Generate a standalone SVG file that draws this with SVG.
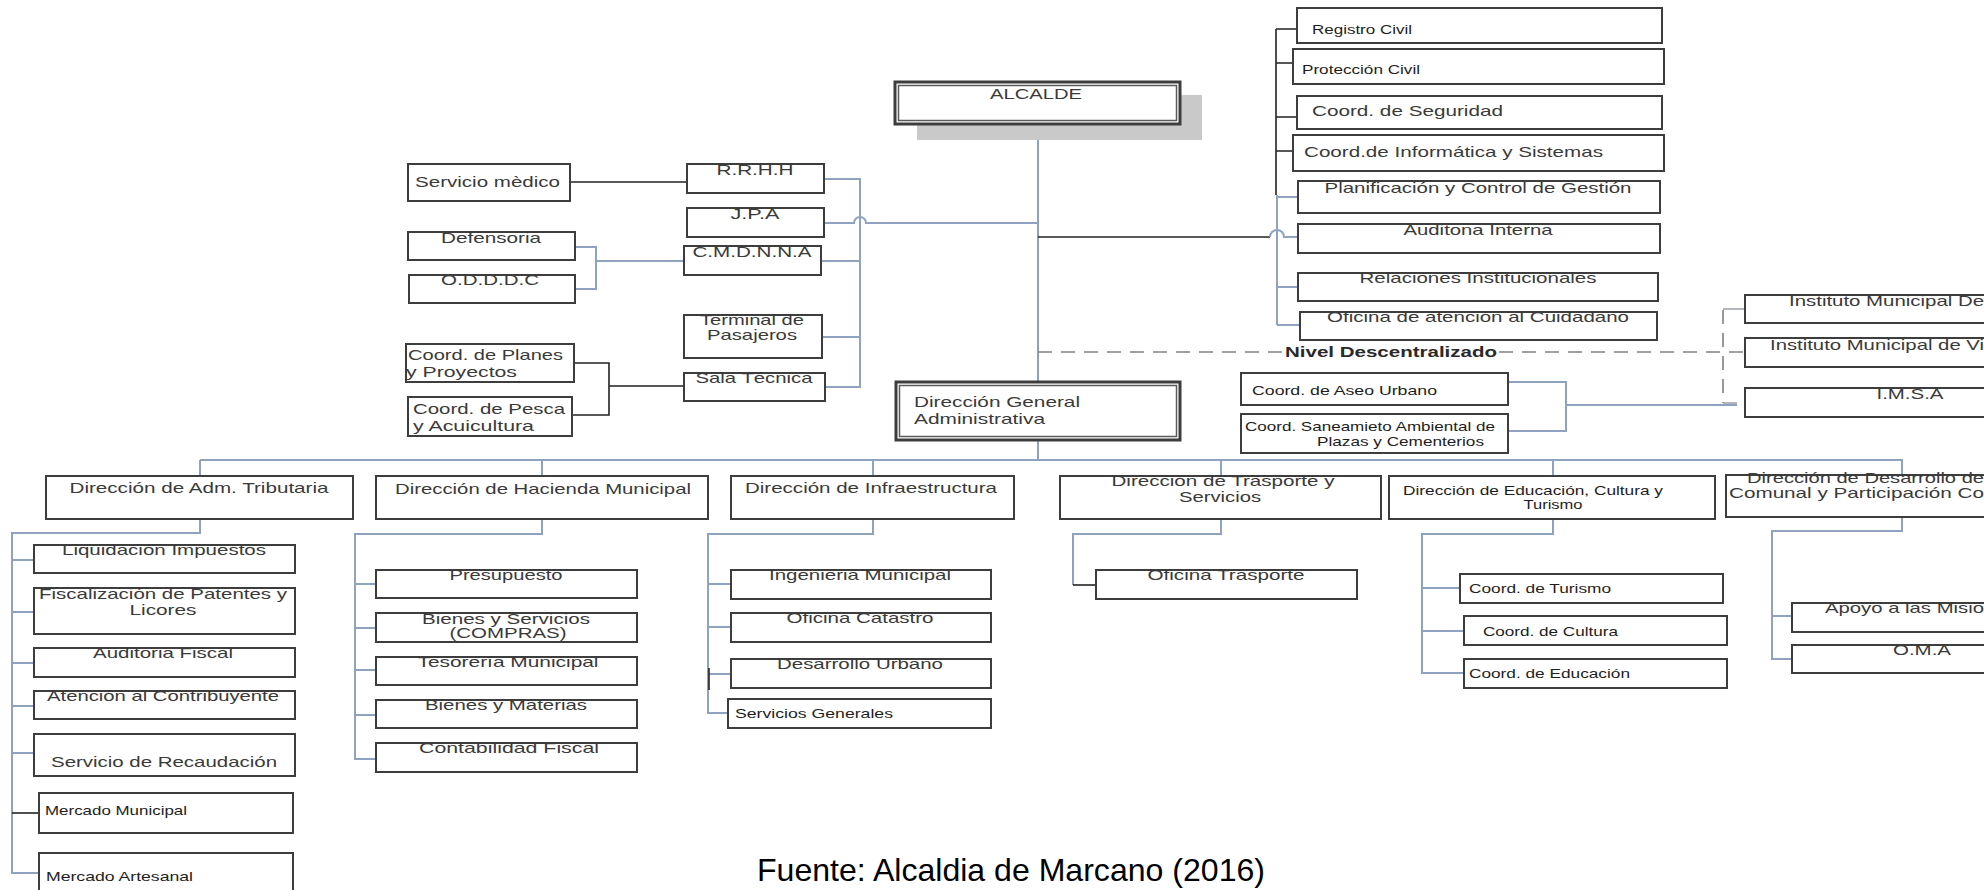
<svg xmlns="http://www.w3.org/2000/svg" width="1984" height="890" viewBox="0 0 1984 890">
<style>
.bx{fill:#fff;stroke:#3d3d3d;stroke-width:2}
.dbl{fill:none;stroke:#5a5a5a;stroke-width:1.5}
.t{font-family:"Liberation Sans",Arial,sans-serif;font-size:15px;fill:#3a3a3a}
.s{font-family:"Liberation Sans",Arial,sans-serif;font-size:13px;fill:#1e1e1e}
.b{font-family:"Liberation Sans",Arial,sans-serif;font-size:15px;font-weight:bold;fill:#2a2a2a}
.m{text-anchor:middle}
.bl{fill:none;stroke:#8fa2c0;stroke-width:2}
.bk{fill:none;stroke:#222;stroke-width:1.6}
.ds{fill:none;stroke:#7d8288;stroke-width:1.6;stroke-dasharray:14 9}
.f{font-family:"Liberation Sans",Arial,sans-serif;font-size:32px;fill:#000}
</style>
<rect width="1984" height="890" fill="#fff"/>

<g id="connectors">
<path class="bl" d="M1038,124 V382 M1038,440 V460"/>
<path class="bl" d="M200,460 H1902 V475 M200,460 V476 M542,460 V476 M873,460 V476 M1221,460 V476 M1553,460 V476"/>
<path class="bk" d="M570,182 H687"/>
<path class="bl" d="M575,247 H596 V289 H575 M596,261 H684"/>
<path class="bk" d="M574,363 H609 V415 H572 M609,386 H684"/>
<path class="bl" d="M824,179 H860 V387 H825 M821,261 H860 M822,337 H860"/>
<path class="bl" d="M824,223 H854 A6,6 0 0 1 866,223 H1038"/>
<path class="bk" d="M1276,29 V195 M1276,29 H1297 M1276,63 H1293 M1276,117 H1297 M1276,151 H1293"/>
<path class="bl" d="M1277,195 V325 M1277,197 H1298 M1277,287 H1298 M1277,325 H1300"/>
<path class="bk" d="M1038,237 H1270"/>
<path class="bl" d="M1270,237 A7,7 0 0 1 1284,237 H1298"/>
<path class="ds" d="M1038,352 H1283 M1499,352 H1745 M1723,310 V403"/>
<path class="bl" d="M1723,309 H1745 M1723,403 H1737" style="stroke:#9aa0a8;stroke-width:1.6"/>
<path class="bl" d="M1508,382 H1566 V431 H1508 M1566,405 H1737"/>
<path class="bl" d="M200,519 V533 H12 V873 H39 M12,560 H34 M12,612 H34 M12,663 H34 M12,706 H34 M12,753 H34"/>
<path class="bk" d="M12,813 H39"/>
<path class="bl" d="M542,519 V534 H355 V759 H376 M355,584 H376 M355,628 H376 M355,670 H376 M355,715 H376"/>
<path class="bl" d="M873,519 V534 H708 V713 H728 M708,584 H731 M708,627 H731 M708,674 H731"/>
<path class="bk" d="M709,668 V690"/>
<path class="bl" d="M1221,519 V534 H1073 V585"/>
<path class="bk" d="M1073,585 H1096"/>
<path class="bl" d="M1553,519 V534 H1422 V673 H1464 M1422,588 H1460 M1422,631 H1464"/>
<path class="bl" d="M1902,517 V531 H1772 V659 H1792 M1772,616 H1792"/>
</g>

<g id="alcalde">
<rect x="917" y="95" width="285" height="45" fill="#c9c9c9"/>
<rect class="bx" x="895" y="82" width="285" height="42" style="stroke-width:3"/>
<rect class="dbl" x="898.5" y="85.5" width="278" height="35"/>
<text class="t m" x="1036" y="99" textLength="92" lengthAdjust="spacingAndGlyphs">ALCALDE</text>
</g>

<g id="dga">
<rect class="bx" x="896" y="382" width="284" height="58" style="stroke-width:3"/>
<rect class="dbl" x="899.5" y="385.5" width="277" height="51"/>
<text class="t" x="914" y="407" textLength="166" lengthAdjust="spacingAndGlyphs">Dirección General</text>
<text class="t" x="914" y="424" textLength="131" lengthAdjust="spacingAndGlyphs">Administrativa</text>
</g>

<g id="servicio-medico"><rect class="bx" x="408" y="164" width="162" height="37"/><text class="t" x="415" y="187" textLength="145" lengthAdjust="spacingAndGlyphs">Servicio mèdico</text></g>
<g id="rrhh"><rect class="bx" x="687" y="164" width="137" height="29"/><text class="t m" x="755" y="175" textLength="77" lengthAdjust="spacingAndGlyphs">R.R.H.H</text></g>
<g id="jpa"><rect class="bx" x="687" y="208" width="137" height="29"/><text class="t m" x="755" y="219" textLength="49" lengthAdjust="spacingAndGlyphs">J.P.A</text></g>
<g id="cmdnna"><rect class="bx" x="684" y="246" width="137" height="29"/><text class="t m" x="752" y="257" textLength="119" lengthAdjust="spacingAndGlyphs">C.M.D.N.N.A</text></g>
<g id="defensoria"><rect class="bx" x="408" y="232" width="167" height="28"/><text class="t m" x="491" y="243" textLength="100" lengthAdjust="spacingAndGlyphs">Defensoria</text></g>
<g id="odddc"><rect class="bx" x="409" y="275" width="166" height="28"/><text class="t m" x="490" y="285" textLength="98" lengthAdjust="spacingAndGlyphs">O.D.D.D.C</text></g>
<g id="terminal"><rect class="bx" x="684" y="315" width="138" height="43"/><text class="t m" x="752" y="325" textLength="104" lengthAdjust="spacingAndGlyphs">Terminal de</text><text class="t m" x="752" y="340" textLength="90" lengthAdjust="spacingAndGlyphs">Pasajeros</text></g>
<g id="sala-tecnica"><rect class="bx" x="684" y="373" width="141" height="28"/><text class="t m" x="754" y="383" textLength="117" lengthAdjust="spacingAndGlyphs">Sala Técnica</text></g>
<g id="coord-planes"><rect class="bx" x="406" y="344" width="168" height="38"/><text class="t" x="408" y="360" textLength="155" lengthAdjust="spacingAndGlyphs">Coord. de Planes</text><text class="t" x="406" y="377" textLength="111" lengthAdjust="spacingAndGlyphs">y Proyectos</text></g>
<g id="coord-pesca"><rect class="bx" x="408" y="397" width="164" height="39"/><text class="t" x="413" y="414" textLength="152" lengthAdjust="spacingAndGlyphs">Coord. de Pesca</text><text class="t" x="413" y="431" textLength="121" lengthAdjust="spacingAndGlyphs">y Acuicultura</text></g>

<g id="registro-civil"><rect class="bx" x="1297" y="8" width="365" height="35"/><text class="s" x="1312" y="34" style="font-size:12.5px" textLength="100" lengthAdjust="spacingAndGlyphs">Registro Civil</text></g>
<g id="proteccion-civil"><rect class="bx" x="1293" y="49" width="371" height="35"/><text class="s" x="1302" y="74" style="font-size:12.5px" textLength="118" lengthAdjust="spacingAndGlyphs">Protección Civil</text></g>
<g id="coord-seguridad"><rect class="bx" x="1297" y="96" width="365" height="33"/><text class="t" x="1312" y="116" textLength="191" lengthAdjust="spacingAndGlyphs">Coord. de Seguridad</text></g>
<g id="coord-informatica"><rect class="bx" x="1293" y="135" width="371" height="36"/><text class="t" x="1304" y="157" textLength="299" lengthAdjust="spacingAndGlyphs">Coord.de Informática y Sistemas</text></g>
<g id="planificacion"><rect class="bx" x="1298" y="181" width="362" height="32"/><text class="t m" x="1478" y="193" textLength="307" lengthAdjust="spacingAndGlyphs">Planificación y Control de Gestión</text></g>
<g id="auditoria-interna"><rect class="bx" x="1298" y="224" width="362" height="29"/><text class="t m" x="1478" y="235" textLength="149" lengthAdjust="spacingAndGlyphs">Auditona Interna</text></g>
<g id="relaciones"><rect class="bx" x="1298" y="273" width="360" height="28"/><text class="t m" x="1478" y="283" textLength="237" lengthAdjust="spacingAndGlyphs">Relaciones Institucionales</text></g>
<g id="oficina-atencion"><rect class="bx" x="1300" y="312" width="357" height="28"/><text class="t m" x="1478" y="322" textLength="302" lengthAdjust="spacingAndGlyphs">Oficina de atención al Cuidadano</text></g>

<g id="nivel-descentralizado"><text class="b" x="1285" y="357" textLength="212" lengthAdjust="spacingAndGlyphs">Nivel Descentralizado</text></g>

<g id="aseo-urbano"><rect class="bx" x="1241" y="373" width="267" height="32"/><text class="s" x="1252" y="395" textLength="185" lengthAdjust="spacingAndGlyphs">Coord. de Aseo Urbano</text></g>
<g id="saneamiento"><rect class="bx" x="1241" y="414" width="267" height="39"/><text class="s" x="1245" y="431" textLength="250" lengthAdjust="spacingAndGlyphs">Coord. Saneamieto Ambiental de</text><text class="s" x="1317" y="446" textLength="167" lengthAdjust="spacingAndGlyphs">Plazas y Cementerios</text></g>

<g id="instituto-1"><rect class="bx" x="1745" y="295" width="260" height="28"/><text class="t" x="1789" y="306" textLength="195" lengthAdjust="spacingAndGlyphs">Instituto Municipal De</text></g>
<g id="instituto-2"><rect class="bx" x="1745" y="338" width="260" height="29"/><text class="t" x="1770" y="350" textLength="214" lengthAdjust="spacingAndGlyphs">Instituto Municipal de Vi</text></g>
<g id="imsa"><rect class="bx" x="1745" y="388" width="260" height="29"/><text class="t m" x="1910" y="399" textLength="67" lengthAdjust="spacingAndGlyphs">I.M.S.A</text></g>

<g id="tributaria"><rect class="bx" x="46" y="476" width="307" height="43"/><text class="t m" x="199" y="493" textLength="259" lengthAdjust="spacingAndGlyphs">Dirección de Adm. Tributaria</text></g>
<g id="hacienda"><rect class="bx" x="376" y="476" width="332" height="43"/><text class="t m" x="543" y="494" textLength="296" lengthAdjust="spacingAndGlyphs">Dirección de Hacienda Municipal</text></g>
<g id="infraestructura"><rect class="bx" x="731" y="476" width="283" height="43"/><text class="t m" x="871" y="493" textLength="252" lengthAdjust="spacingAndGlyphs">Dirección de Infraestructura</text></g>
<g id="trasporte"><rect class="bx" x="1060" y="476" width="321" height="43"/><text class="t m" x="1223" y="486" textLength="223" lengthAdjust="spacingAndGlyphs">Dirección de Trasporte y</text><text class="t m" x="1220" y="502" textLength="82" lengthAdjust="spacingAndGlyphs">Servicios</text></g>
<g id="educacion"><rect class="bx" x="1389" y="476" width="326" height="43"/><text class="s" x="1403" y="495" textLength="260" lengthAdjust="spacingAndGlyphs">Dirección de Educación, Cultura y</text><text class="s m" x="1553" y="509" textLength="59" lengthAdjust="spacingAndGlyphs">Turismo</text></g>
<g id="desarrollo-comunal"><rect class="bx" x="1726" y="475" width="280" height="42"/><text class="t" x="1747" y="483" textLength="237" lengthAdjust="spacingAndGlyphs">Dirección de Desarrollo de</text><text class="t" x="1729" y="498" textLength="255" lengthAdjust="spacingAndGlyphs">Comunal y Participación Co</text></g>

<g id="liquidacion"><rect class="bx" x="34" y="545" width="261" height="28"/><text class="t m" x="164" y="555" textLength="204" lengthAdjust="spacingAndGlyphs">Liquidación Impuestos</text></g>
<g id="fiscalizacion"><rect class="bx" x="34" y="588" width="261" height="46"/><text class="t m" x="163" y="599" textLength="248" lengthAdjust="spacingAndGlyphs">Fiscalización de Patentes y</text><text class="t m" x="163" y="615" textLength="67" lengthAdjust="spacingAndGlyphs">Licores</text></g>
<g id="auditoria-fiscal"><rect class="bx" x="34" y="648" width="261" height="29"/><text class="t m" x="163" y="658" textLength="140" lengthAdjust="spacingAndGlyphs">Auditoria Fiscal</text></g>
<g id="atencion-contribuyente"><rect class="bx" x="34" y="691" width="261" height="28"/><text class="t m" x="163" y="701" textLength="232" lengthAdjust="spacingAndGlyphs">Atención al Contribuyente</text></g>
<g id="recaudacion"><rect class="bx" x="34" y="734" width="261" height="42"/><text class="t m" x="164" y="767" textLength="226" lengthAdjust="spacingAndGlyphs">Servicio de Recaudación</text></g>
<g id="mercado-municipal"><rect class="bx" x="39" y="793" width="254" height="40"/><text class="s" x="45" y="815" textLength="142" lengthAdjust="spacingAndGlyphs">Mercado Municipal</text></g>
<g id="mercado-artesanal"><rect class="bx" x="39" y="853" width="254" height="50"/><text class="s" x="46" y="881" textLength="147" lengthAdjust="spacingAndGlyphs">Mercado Artesanal</text></g>

<g id="presupuesto"><rect class="bx" x="376" y="570" width="261" height="28"/><text class="t m" x="506" y="580" textLength="113" lengthAdjust="spacingAndGlyphs">Presupuesto</text></g>
<g id="bienes-servicios"><rect class="bx" x="376" y="613" width="261" height="29"/><text class="t m" x="506" y="624" textLength="168" lengthAdjust="spacingAndGlyphs">Bienes y Servicios</text><text class="t m" x="508" y="638" textLength="117" lengthAdjust="spacingAndGlyphs">(COMPRAS)</text></g>
<g id="tesoreria"><rect class="bx" x="376" y="657" width="261" height="28"/><text class="t m" x="508" y="667" textLength="181" lengthAdjust="spacingAndGlyphs">Tesorería Municipal</text></g>
<g id="bienes-materias"><rect class="bx" x="376" y="700" width="261" height="28"/><text class="t m" x="506" y="710" textLength="162" lengthAdjust="spacingAndGlyphs">Bienes y Materias</text></g>
<g id="contabilidad"><rect class="bx" x="376" y="743" width="261" height="29"/><text class="t m" x="509" y="753" textLength="180" lengthAdjust="spacingAndGlyphs">Contabilidad Fiscal</text></g>

<g id="ingenieria"><rect class="bx" x="731" y="570" width="260" height="29"/><text class="t m" x="860" y="580" textLength="182" lengthAdjust="spacingAndGlyphs">Ingenieria Municipal</text></g>
<g id="catastro"><rect class="bx" x="731" y="613" width="260" height="29"/><text class="t m" x="860" y="623" textLength="147" lengthAdjust="spacingAndGlyphs">Oficina Catastro</text></g>
<g id="desarrollo-urbano"><rect class="bx" x="731" y="659" width="260" height="29"/><text class="t m" x="860" y="669" textLength="166" lengthAdjust="spacingAndGlyphs">Desarrollo Urbano</text></g>
<g id="servicios-generales"><rect class="bx" x="728" y="699" width="263" height="29"/><text class="s" x="735" y="718" textLength="158" lengthAdjust="spacingAndGlyphs">Servicios Generales</text></g>

<g id="oficina-trasporte"><rect class="bx" x="1096" y="570" width="261" height="29"/><text class="t m" x="1226" y="580" textLength="157" lengthAdjust="spacingAndGlyphs">Oficina Trasporte</text></g>

<g id="coord-turismo"><rect class="bx" x="1460" y="574" width="263" height="29"/><text class="s" x="1469" y="593" textLength="142" lengthAdjust="spacingAndGlyphs">Coord. de Turismo</text></g>
<g id="coord-cultura"><rect class="bx" x="1464" y="616" width="263" height="29"/><text class="s" x="1483" y="636" textLength="135" lengthAdjust="spacingAndGlyphs">Coord. de Cultura</text></g>
<g id="coord-educacion"><rect class="bx" x="1464" y="659" width="263" height="29"/><text class="s" x="1469" y="678" textLength="161" lengthAdjust="spacingAndGlyphs">Coord. de Educación</text></g>

<g id="apoyo-misiones"><rect class="bx" x="1792" y="603" width="220" height="29"/><text class="t" x="1825" y="613" textLength="159" lengthAdjust="spacingAndGlyphs">Apoyo a las Misio</text></g>
<g id="oma"><rect class="bx" x="1792" y="645" width="220" height="28"/><text class="t m" x="1922" y="655" textLength="58" lengthAdjust="spacingAndGlyphs">O.M.A</text></g>

<g id="fuente"><text class="f" x="757" y="881" textLength="508" lengthAdjust="spacingAndGlyphs">Fuente: Alcaldia de Marcano (2016)</text></g>
</svg>
